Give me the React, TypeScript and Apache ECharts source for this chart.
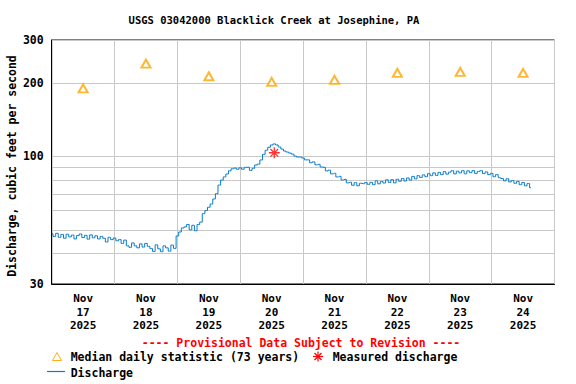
import React, { useEffect, useRef } from 'react';
import * as echarts from 'echarts';

const chartTitle = 'USGS 03042000 Blacklick Creek at Josephine, PA';
const yAxisTitle = 'Discharge, cubic feet per second';
const dayLabels = ['Nov\n17\n2025', 'Nov\n18\n2025', 'Nov\n19\n2025', 'Nov\n20\n2025', 'Nov\n21\n2025', 'Nov\n22\n2025', 'Nov\n23\n2025', 'Nov\n24\n2025'];
const yLabelValues = [30, 100, 200, 300];
const yGridValues = [30, 40, 50, 60, 70, 80, 90, 100, 200, 300];

// hourly discharge readings (cfs), hour 0 = Nov 17 00:00
const dischargeNov17 = [48.2, 47.0, 48.4, 46.6, 47.9, 46.2, 48.0, 46.8, 47.6, 45.9, 47.4, 48.1, 46.5, 47.5, 45.8, 47.7, 46.4, 47.3, 45.9, 47.0, 46.2, 44.6, 46.6, 45.6];
const dischargeNov18 = [46.3, 45.1, 45.6, 44.0, 45.4, 43.0, 42.4, 44.2, 43.0, 42.2, 43.8, 42.5, 44.0, 42.8, 41.9, 40.8, 43.4, 41.8, 40.7, 43.0, 42.2, 40.9, 43.3, 42.0];
const dischargeNov19 = [47.2, 49.0, 50.9, 51.4, 52.6, 50.0, 52.2, 49.6, 52.6, 53.8, 58.3, 60.0, 61.9, 63.8, 66.9, 70.4, 76.3, 80.0, 82.4, 84.7, 87.3, 89.0, 89.6, 88.6];
const dischargeNov20 = [89.8, 88.6, 90.2, 90.3, 87.6, 89.4, 92.2, 93.0, 96.7, 102.0, 106.0, 109.0, 111.4, 112.5, 111.4, 109.3, 107.2, 105.2, 104.2, 103.2, 102.2, 100.3, 99.4, 99.4];
const dischargeNov21 = [98.5, 96.8, 96.8, 94.2, 95.0, 92.4, 92.8, 90.5, 90.2, 87.2, 87.8, 84.8, 85.3, 82.4, 82.9, 80.1, 80.6, 77.9, 78.4, 76.2, 78.1, 75.8, 77.6, 77.3];
const dischargeNov22 = [78.1, 76.8, 78.3, 76.6, 79.4, 77.2, 79.0, 77.8, 80.2, 78.2, 80.3, 77.9, 80.6, 79.1, 81.2, 79.3, 81.6, 80.0, 82.8, 80.9, 83.4, 82.0, 84.0, 82.6];
const dischargeNov23 = [85.0, 83.4, 85.6, 83.6, 86.0, 84.2, 86.6, 84.6, 86.2, 87.4, 84.8, 87.0, 85.6, 87.4, 84.9, 87.3, 85.8, 87.5, 85.2, 86.8, 87.4, 85.0, 86.4, 84.2];
const dischargeNov24 = [85.2, 82.6, 84.2, 81.8, 81.2, 79.4, 81.0, 78.6, 79.6, 77.6, 79.0, 76.6, 78.2, 75.8, 77.4, 74.4];

// median daily statistic, one per day (plotted at noon)
const medianValues = [190, 240, 213, 202, 206, 220, 222, 220];

// measured discharge
const measuredHour = 85; // Nov 20 13:00
const measuredValue = 103.5;

const FONT = 'DejaVu Sans Mono';
const STAR = 'path://M5,0L5,10M0,5L10,5M1.5,1.5L8.5,8.5M8.5,1.5L1.5,8.5';

export default function App() {
  const ref = useRef<HTMLDivElement>(null);
  useEffect(() => {
    if (!ref.current) return;
    const chart = echarts.init(ref.current, undefined, { renderer: 'svg' });
    const days = [dischargeNov17, dischargeNov18, dischargeNov19, dischargeNov20, dischargeNov21, dischargeNov22, dischargeNov23, dischargeNov24];
    const discharge: number[][] = [];
    days.forEach((arr, d) => arr.forEach((v, h) => discharge.push([d * 24 + h, v])));
    const medians = medianValues.map((v, i) => [i * 24 + 12, v]);
    const labelHours = dayLabels.map((_, i) => i * 24 + 12);

    chart.setOption({
      animation: false,
      grid: {
        left: 51.7, right: 21.5, top: 40, bottom: 100, containLabel: false, outerBoundsMode: 'none',
        show: true, borderColor: '#000', borderWidth: 1, backgroundColor: 'transparent',
      },
      xAxis: {
        type: 'value', min: 0, max: 192, interval: 24,
        axisLine: { show: true, lineStyle: { color: '#000', width: 1 } },
        axisTick: { show: false },
        splitLine: { show: true, lineStyle: { color: '#c8c8c8', width: 1 } },
        axisLabel: {
          customValues: labelHours,
          formatter: (v: number) => dayLabels[Math.round((v - 12) / 24)] ?? '',
          color: '#000', fontFamily: FONT, fontWeight: 'bold', fontSize: 11, lineHeight: 13.5, margin: 8,
        },
      },
      yAxis: {
        type: 'log', logBase: 10, min: 30, max: 300,
        axisLine: { show: true, lineStyle: { color: '#000', width: 1 } },
        axisTick: { show: false, customValues: yGridValues },
        splitLine: { show: true, lineStyle: { color: '#c8c8c8', width: 1 } },
        axisLabel: {
          customValues: yLabelValues,
          formatter: (v: number) => String(Math.round(v)),
          color: '#000', fontFamily: FONT, fontWeight: 'bold', fontSize: 11.5, margin: 8,
        },
      },
      series: [
        {
          type: 'line', data: discharge, showSymbol: false, symbol: 'none', step: 'middle',
          lineStyle: { color: '#0a7ccc', width: 1 }, z: 3,
        },
        {
          type: 'scatter', data: medians, symbol: 'emptyTriangle', symbolSize: [9, 8],
          itemStyle: { color: '#ffa500', borderColor: '#ffa500', borderWidth: 0.9 }, z: 4,
        },
        {
          type: 'scatter', data: [[measuredHour, measuredValue]], symbol: STAR, symbolSize: 11,
          itemStyle: { color: 'none', borderColor: '#ff0000', borderWidth: 1.3 }, z: 5,
        },
      ],
      graphic: [
        { type: 'text', x: 274, y: 20, style: { text: chartTitle, fill: '#000', font: `bold 10.5px "${FONT}"`, align: 'center', verticalAlign: 'middle' } },
        { type: 'text', x: 12, y: 166, rotation: Math.PI / 2, style: { text: yAxisTitle, fill: '#000', font: `bold 11.5px "${FONT}"`, align: 'center', verticalAlign: 'middle' } },
        { type: 'text', x: 301, y: 343, style: { text: '---- Provisional Data Subject to Revision ----', fill: '#ff0000', font: `bold 11.5px "${FONT}"`, align: 'center', verticalAlign: 'middle' } },
        { type: 'polygon', shape: { points: [[57, 352.5], [52.5, 360.5], [61.5, 360.5]] }, style: { fill: 'none', stroke: '#ffa500', lineWidth: 0.9 } },
        { type: 'text', x: 70.7, y: 357, style: { text: 'Median daily statistic (73 years)', fill: '#000', font: `bold 11.5px "${FONT}"`, align: 'left', verticalAlign: 'middle' } },
        { type: 'line', shape: { x1: 318, y1: 351.5, x2: 318, y2: 361.5 }, style: { stroke: '#ff0000', lineWidth: 1.2 } },
        { type: 'line', shape: { x1: 313, y1: 356.5, x2: 323, y2: 356.5 }, style: { stroke: '#ff0000', lineWidth: 1.2 } },
        { type: 'line', shape: { x1: 314.5, y1: 353, x2: 321.5, y2: 360 }, style: { stroke: '#ff0000', lineWidth: 1.2 } },
        { type: 'line', shape: { x1: 321.5, y1: 353, x2: 314.5, y2: 360 }, style: { stroke: '#ff0000', lineWidth: 1.2 } },
        { type: 'text', x: 332.7, y: 357, style: { text: 'Measured discharge', fill: '#000', font: `bold 11.5px "${FONT}"`, align: 'left', verticalAlign: 'middle' } },
        { type: 'line', shape: { x1: 47, y1: 371.5, x2: 65, y2: 371.5 }, style: { stroke: '#0a7ccc', lineWidth: 1.2 } },
        { type: 'text', x: 70.7, y: 372.5, style: { text: 'Discharge', fill: '#000', font: `bold 11.5px "${FONT}"`, align: 'left', verticalAlign: 'middle' } },
      ],
    });
    return () => chart.dispose();
  }, []);
  return <div ref={ref} style={{ width: 576, height: 384, position: 'absolute', left: 0, top: 0 }} />;
}
